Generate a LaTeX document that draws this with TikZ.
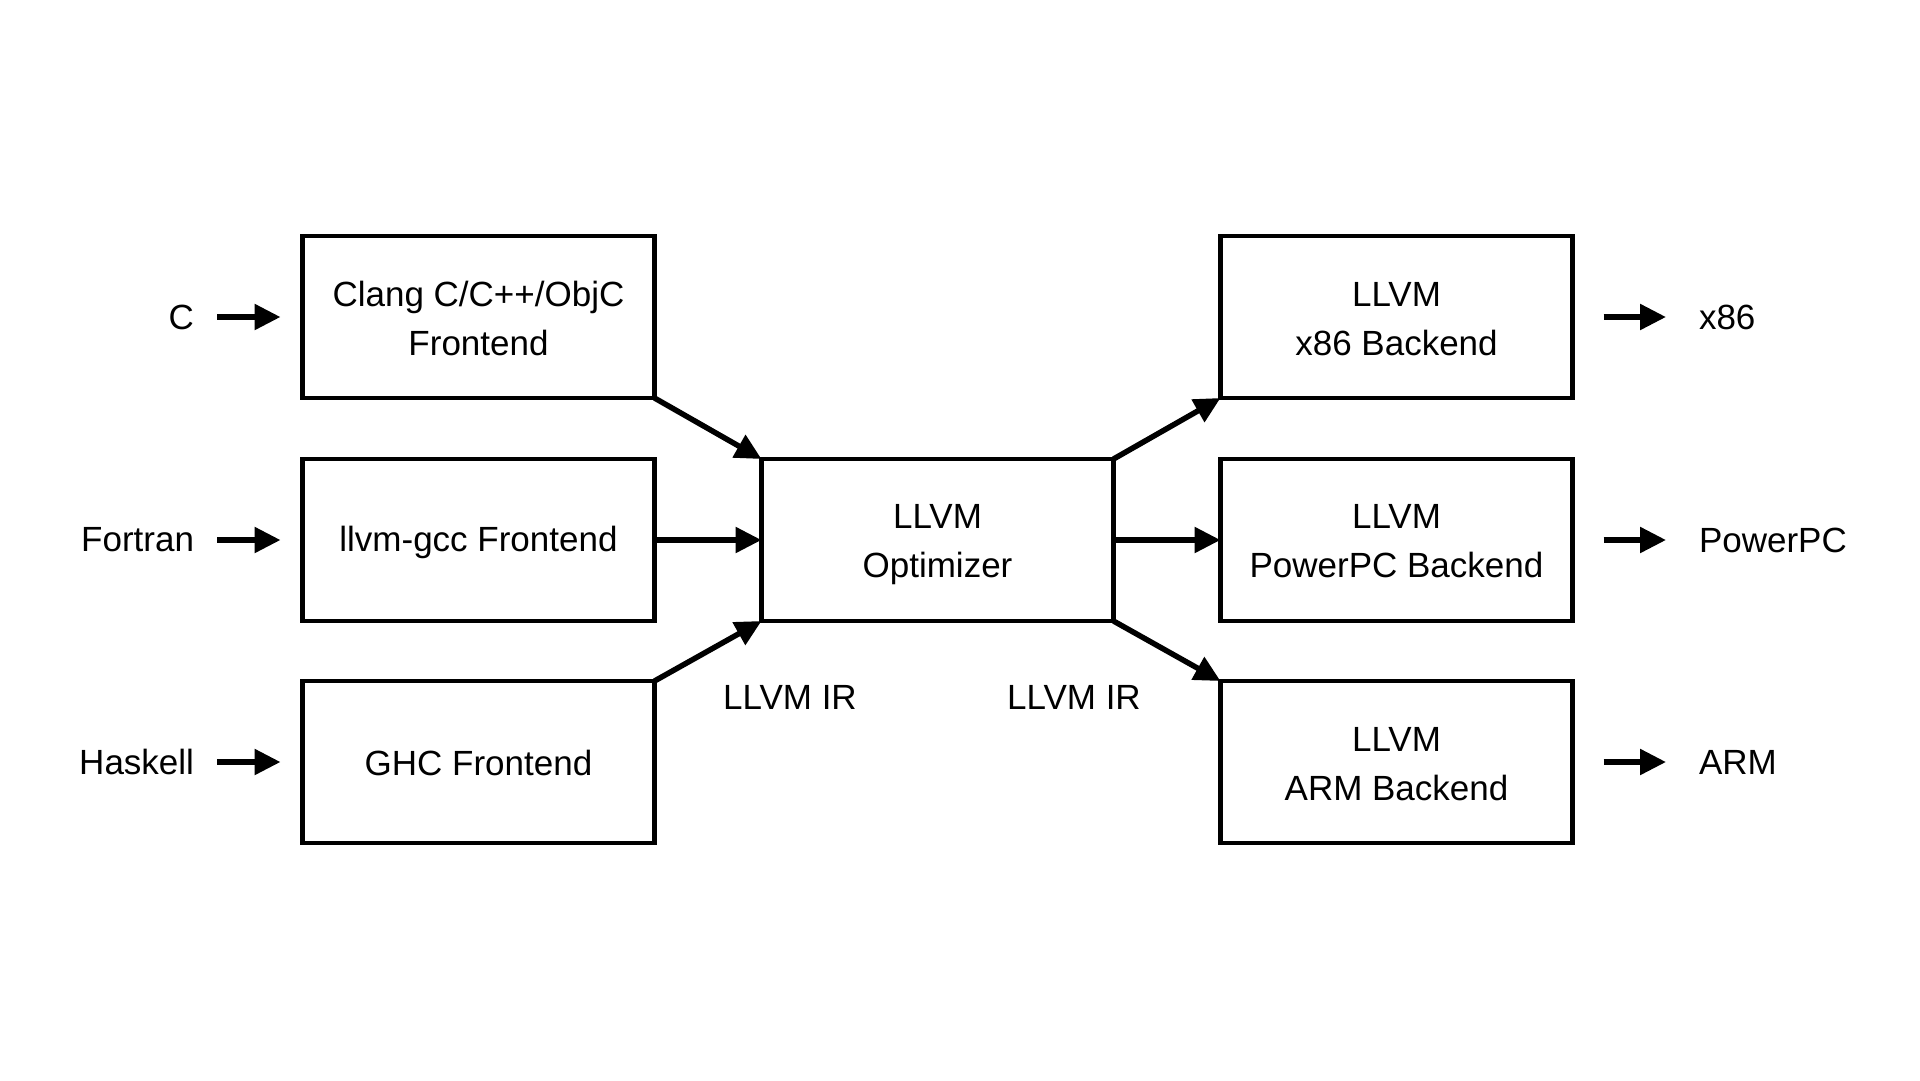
\documentclass[tikz,border=0pt]{standalone}
\usepackage{fontspec}
\setmainfont{Liberation Sans}
\usetikzlibrary{arrows.meta}
\begin{document}
\begin{tikzpicture}[x=1pt,y=-1pt,
  box/.style={draw,line width=4.5pt,minimum width=352pt,minimum height=162pt,
    inner sep=0pt,outer sep=0pt},
  boxtext/.style={font=\fontsize{35}{49}\selectfont,align=center,inner sep=0pt,outer sep=0pt},
  lbl/.style={font=\fontsize{35}{49}\selectfont,inner sep=0pt,outer sep=0pt},
  arr/.style={line width=5.5pt,-{Triangle[length=26pt,width=25pt]}}]
\useasboundingbox[fill=white] (0,0) rectangle (1920,1080);

% frontends
\node[box] (fe1) at (478.5,317) {};
\node[box] (fe2) at (478.5,540) {};
\node[box] (fe3) at (478.5,762) {};
% optimizer
\node[box] (opt) at (937.5,540) {};
% backends
\node[box] (be1) at (1396.5,317) {};
\node[box] (be2) at (1396.5,540) {};
\node[box] (be3) at (1396.5,762) {};

% box texts
\node[boxtext] (tfe1) at ([yshift=-1.5pt]fe1.center) {Clang C/C++/ObjC\\Frontend};
\node[boxtext] (tfe2) at ([yshift=-2.5pt]fe2.center) {llvm-gcc Frontend};
\node[boxtext] (tfe3) at ([yshift=-1pt]fe3.center) {GHC Frontend};
\node[boxtext] (topt) at ([yshift=-5pt]opt.center) {LLVM\\Optimizer};
\node[boxtext] (tbe1) at ([yshift=-2pt]be1.center) {LLVM\\x86 Backend};
\node[boxtext] (tbe2) at ([yshift=-1.5pt]be2.center) {LLVM\\PowerPC Backend};
\node[boxtext] (tbe3) at ([yshift=-2pt]be3.center) {LLVM\\ARM Backend};

% inputs
\node[lbl,anchor=east] (c) at (194,317) {C};
\node[lbl,anchor=east] (fortran) at (194,540) {Fortran};
\node[lbl,anchor=east] (haskell) at (194,762) {Haskell};
% outputs
\node[lbl,anchor=west] (x86) at (1699,317) {x86};
\node[lbl,anchor=west] (ppc) at (1699,540) {PowerPC};
\node[lbl,anchor=west] (arm) at (1699,762) {ARM};

% IR labels
\node[lbl] (ir1) at (790,697) {LLVM IR};
\node[lbl] (ir2) at (1074,697) {LLVM IR};

% input arrows
\draw[arr,shorten <=23pt,shorten >=22pt] (c.east) -- (fe1.west);
\draw[arr,shorten <=23pt,shorten >=22pt] (fortran.east) -- (fe2.west);
\draw[arr,shorten <=23pt,shorten >=22pt] (haskell.east) -- (fe3.west);

% frontends to optimizer
\draw[arr] (fe1.south east) -- (opt.north west);
\draw[arr] (fe2.east) -- (opt.west);
\draw[arr] (fe3.north east) -- (opt.south west);

% optimizer to backends
\draw[arr] (opt.north east) -- (be1.south west);
\draw[arr] (opt.east) -- (be2.west);
\draw[arr] (opt.south east) -- (be3.north west);

% output arrows
\draw[arr,shorten <=31pt,shorten >=33pt] (be1.east) -- (x86.west);
\draw[arr,shorten <=31pt,shorten >=33pt] (be2.east) -- (ppc.west);
\draw[arr,shorten <=31pt,shorten >=33pt] (be3.east) -- (arm.west);
\end{tikzpicture}
\end{document}
